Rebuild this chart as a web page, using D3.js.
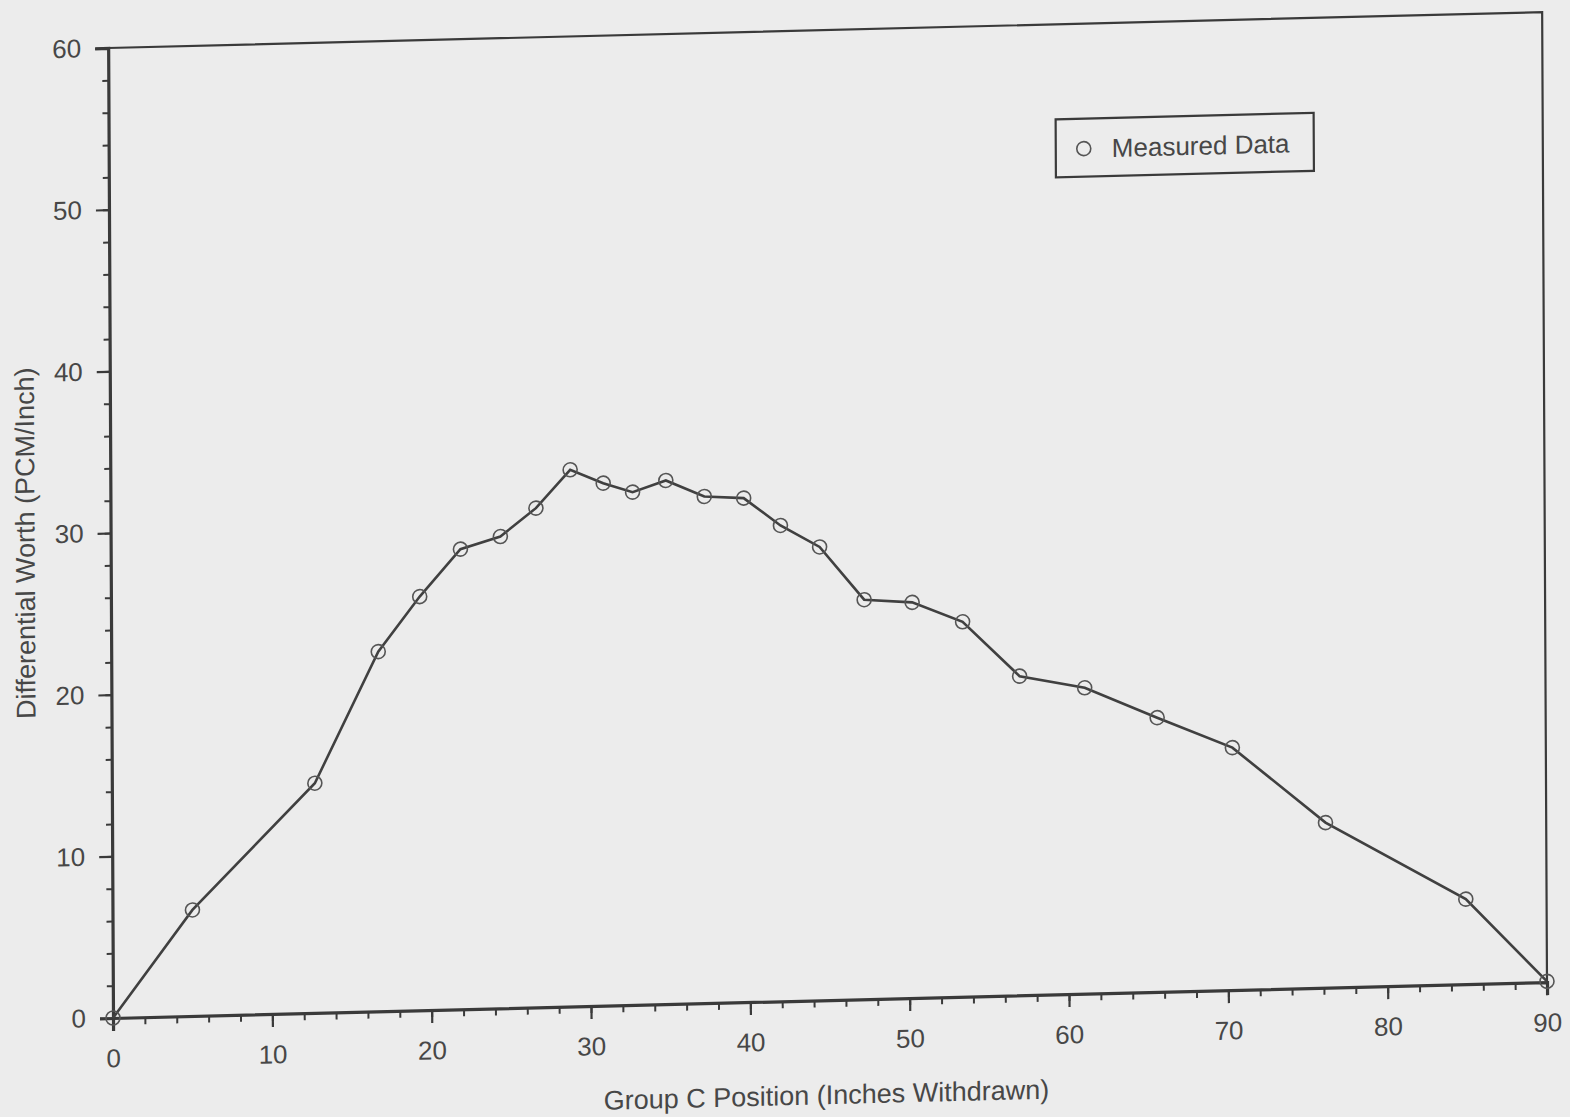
<!DOCTYPE html>
<html>
<head>
<meta charset="utf-8">
<script src="https://cdn.jsdelivr.net/npm/d3@7"></script>
<style>
  html, body { margin: 0; padding: 0; background: #ececec; }
  svg { display: block; }
  text { font-family: "Liberation Sans", Arial, sans-serif; fill: #474747; }
</style>
</head>
<body>
<svg id="chart" width="1570" height="1117"></svg>
<script>
// Data (Group C position vs differential worth)
const positions = [0, 5.02, 12.74, 16.76, 19.38, 21.95, 24.46, 26.70, 28.86, 30.93, 32.77, 34.86, 37.27, 39.74, 42.04, 44.49, 47.27, 50.28, 53.44, 57.0, 61.08, 65.62, 70.33, 76.15, 84.93, 90];
const worth     = [0, 6.56, 14.21, 22.25, 25.59, 28.46, 29.18, 30.88, 33.20, 32.32, 31.72, 32.39, 31.34, 31.18, 29.43, 28.04, 24.71, 24.47, 23.19, 19.74, 18.92, 16.96, 14.99, 10.21, 5.26, 0.05];
const xMajorTicks = [0, 10, 20, 30, 40, 50, 60, 70, 80, 90];
const yMajorTicks = [0, 10, 20, 30, 40, 50, 60];
const xTitle = "Group C Position (Inches Withdrawn)";
const yTitle = "Differential Worth (PCM/Inch)";
const legendLabel = "Measured Data";

const W = 1434, H = 970;
const svg = d3.select("#chart");

// scanned page is slightly skewed; reproduce with a shear
const g = svg.append("g")
  .attr("transform", "translate(113,1018) matrix(1,-0.025,0.005,1,0,0)");

const x = d3.scaleLinear().domain([0, 90]).range([0, W]);
const y = d3.scaleLinear().domain([0, 60]).range([0, -H]);

const ink = "#3a3a3a";
const font = '"Liberation Sans", Arial, sans-serif';

// frame (top and right)
g.append("path")
  .attr("d", `M${x(0)},${y(60)}L${x(90)},${y(60)}L${x(90)},${y(0)}`)
  .attr("fill", "none").attr("stroke", ink).attr("stroke-width", 2.2);

// Y axis minor
const yMinor = g.append("g").call(d3.axisLeft(y).tickValues(d3.range(0, 61, 2)).tickSize(6).tickFormat(""));
yMinor.select(".domain").remove();
yMinor.selectAll("line").attr("stroke", ink).attr("stroke-width", 2);
// Y axis major
const yAx = g.append("g").call(d3.axisLeft(y).tickValues(yMajorTicks).tickSize(13).tickPadding(14));
yAx.select(".domain").attr("stroke", ink).attr("stroke-width", 3.2);
yAx.selectAll("line").attr("stroke", ink).attr("stroke-width", 2.2);
yAx.selectAll("text").attr("font-size", 26).style("font-family", font).attr("fill", "#474747");

// X axis minor
const xMinor = g.append("g").call(d3.axisBottom(x).tickValues(d3.range(0, 91, 2)).tickSize(7).tickFormat(""));
xMinor.select(".domain").remove();
xMinor.selectAll("line").attr("stroke", ink).attr("stroke-width", 2);
// X axis major
const xAx = g.append("g").call(d3.axisBottom(x).tickValues(xMajorTicks).tickSize(13).tickPadding(18));
xAx.select(".domain").attr("stroke", ink).attr("stroke-width", 3.2);
xAx.selectAll("line").attr("stroke", ink).attr("stroke-width", 2.2);
xAx.selectAll("text").attr("font-size", 26).style("font-family", font).attr("fill", "#474747");

// axis titles
g.append("text")
  .attr("x", x(45) - 4).attr("y", 104)
  .attr("text-anchor", "middle").attr("font-size", 27)
  .text(xTitle);
g.append("text")
  .attr("transform", `translate(-76,${y(29.5)}) rotate(-90)`)
  .attr("text-anchor", "middle").attr("font-size", 27)
  .text(yTitle);

// data line
const pts = positions.map((p, i) => [p, worth[i]]);
g.append("path")
  .datum(pts)
  .attr("d", d3.line().x(d => x(d[0])).y(d => y(d[1])))
  .attr("fill", "none").attr("stroke", "#404040").attr("stroke-width", 2.6);

g.selectAll("circle.pt").data(pts).enter().append("circle")
  .attr("class", "pt")
  .attr("cx", d => x(d[0])).attr("cy", d => y(d[1]))
  .attr("r", 7).attr("fill", "none").attr("stroke", "#555").attr("stroke-width", 1.6);

// legend
const lg = g.append("g").attr("transform", `translate(947,${-875})`);
lg.append("rect").attr("width", 258).attr("height", 58)
  .attr("fill", "none").attr("stroke", ink).attr("stroke-width", 2.2);
lg.append("circle").attr("cx", 28).attr("cy", 30).attr("r", 7)
  .attr("fill", "none").attr("stroke", "#555").attr("stroke-width", 1.6);
lg.append("text").attr("x", 56).attr("y", 39).attr("font-size", 26).text(legendLabel);
</script>
</body>
</html>
